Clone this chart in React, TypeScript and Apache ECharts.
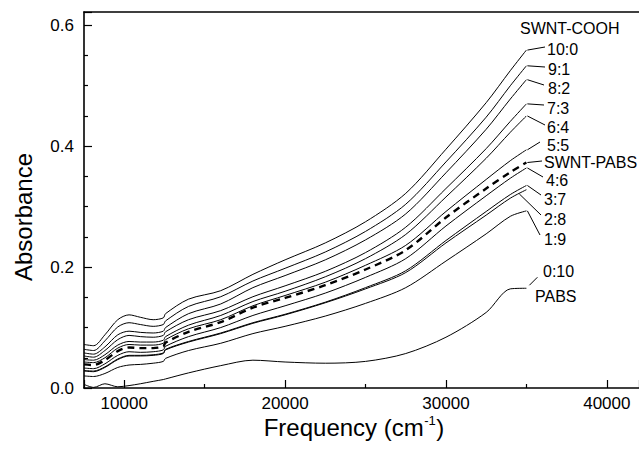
import React, { useEffect, useRef } from "react";
import * as echarts from "echarts";

const FREQ = [7500, 8100, 8800, 9600, 10300, 11000, 11800, 12430, 12570, 14000, 16000, 18000, 20000, 22500, 25000, 27500, 30000, 32500, 34000, 35000];

const S_10_0 = [0.072, 0.070, 0.088, 0.113, 0.121, 0.117, 0.113, 0.116, 0.123, 0.147, 0.161, 0.188, 0.212, 0.240, 0.275, 0.322, 0.395, 0.472, 0.525, 0.559];
const S_9_1 = [0.064, 0.062, 0.078, 0.101, 0.108, 0.105, 0.102, 0.105, 0.111, 0.135, 0.151, 0.177, 0.198, 0.225, 0.259, 0.304, 0.374, 0.448, 0.500, 0.533];
const S_8_2 = [0.058, 0.056, 0.068, 0.088, 0.094, 0.092, 0.091, 0.094, 0.100, 0.123, 0.139, 0.166, 0.186, 0.212, 0.245, 0.288, 0.356, 0.428, 0.478, 0.510];
const S_7_3 = [0.053, 0.051, 0.062, 0.080, 0.087, 0.085, 0.084, 0.087, 0.093, 0.113, 0.128, 0.151, 0.169, 0.193, 0.224, 0.266, 0.330, 0.396, 0.441, 0.470];
const S_6_4 = [0.047, 0.046, 0.055, 0.071, 0.077, 0.076, 0.076, 0.079, 0.085, 0.104, 0.120, 0.143, 0.160, 0.184, 0.214, 0.254, 0.316, 0.380, 0.423, 0.450];
const S_5_5 = [0.043, 0.042, 0.050, 0.066, 0.072, 0.071, 0.071, 0.074, 0.080, 0.098, 0.113, 0.136, 0.153, 0.175, 0.203, 0.236, 0.292, 0.345, 0.376, 0.394];
const S_SWNT_PABS = [0.039, 0.038, 0.046, 0.061, 0.067, 0.066, 0.066, 0.069, 0.075, 0.093, 0.109, 0.133, 0.149, 0.170, 0.196, 0.228, 0.282, 0.330, 0.357, 0.373];
const S_4_6 = [0.033, 0.032, 0.040, 0.054, 0.060, 0.059, 0.060, 0.063, 0.069, 0.085, 0.100, 0.120, 0.136, 0.157, 0.183, 0.214, 0.268, 0.318, 0.347, 0.364];
const S_3_7 = [0.029, 0.028, 0.035, 0.048, 0.054, 0.054, 0.055, 0.058, 0.064, 0.077, 0.091, 0.108, 0.122, 0.142, 0.166, 0.194, 0.244, 0.292, 0.320, 0.335];
const S_2_8 = [0.028, 0.027, 0.034, 0.047, 0.053, 0.053, 0.054, 0.057, 0.063, 0.076, 0.090, 0.107, 0.121, 0.141, 0.164, 0.191, 0.240, 0.286, 0.314, 0.328];
const S_1_9 = [0.020, 0.019, 0.024, 0.034, 0.038, 0.039, 0.041, 0.044, 0.049, 0.062, 0.074, 0.090, 0.102, 0.119, 0.140, 0.166, 0.210, 0.255, 0.284, 0.293];
const S_0_10 = [0.006, 0.001, 0.007, 0.002, 0.004, 0.007, 0.011, 0.014, 0.015, 0.025, 0.037, 0.046, 0.043, 0.041, 0.044, 0.057, 0.084, 0.125, 0.164, 0.165];

const SERIES_NAMES = ["10:0", "9:1", "8:2", "7:3", "6:4", "5:5", "SWNT-PABS", "4:6", "3:7", "2:8", "1:9", "0:10"];
const SERIES_VALUES = [S_10_0, S_9_1, S_8_2, S_7_3, S_6_4, S_5_5, S_SWNT_PABS, S_4_6, S_3_7, S_2_8, S_1_9, S_0_10];
const DASHED_SERIES = "SWNT-PABS";

const X_TITLE = "Frequency (cm";
const X_TITLE_SUP = "-1";
const X_TITLE_END = ")";
const Y_TITLE = "Absorbance";
const HEADER_LABEL = "SWNT-COOH";
const PABS_LABEL = "PABS";

// label layout (pixels): text position and leader-line target
const LABEL_LAYOUT: Record<string, { tx: number; ty: number; lx?: number; ly?: number; fromX?: number }> = {
  "10:0": { tx: 547, ty: 49, lx: 545, ly: 47 },
  "9:1": { tx: 548, ty: 69, lx: 545, ly: 67 },
  "8:2": { tx: 548, ty: 88, lx: 544, ly: 85 },
  "7:3": { tx: 547, ty: 108, lx: 544, ly: 105 },
  "6:4": { tx: 547, ty: 127, lx: 545, ly: 125 },
  "5:5": { tx: 547, ty: 145, lx: 540, ly: 142 },
  "SWNT-PABS": { tx: 544, ty: 162, lx: 542, ly: 161 },
  "4:6": { tx: 546, ty: 180, lx: 543, ly: 177 },
  "3:7": { tx: 544, ty: 199, lx: 541, ly: 195 },
  "2:8": { tx: 544, ty: 219, lx: 541, ly: 215, fromX: 34500 },
  "1:9": { tx: 544, ty: 239, lx: 540, ly: 235 },
  "0:10": { tx: 543, ty: 271 },
};

export default function App() {
  const ref = useRef<HTMLDivElement>(null);
  useEffect(() => {
    document.body.style.margin = "0";
    const chart = echarts.init(ref.current!, null, { renderer: "svg" });
    const font = "'Liberation Sans', Arial, Helvetica, sans-serif";
    const series = SERIES_NAMES.map((name, k) => ({
      type: "line",
      name,
      data: FREQ.map((f, i) => [f, SERIES_VALUES[k][i]]),
      showSymbol: false,
      symbol: "none",
      smooth: 0.3,
      silent: true,
      lineStyle: {
        color: "#000",
        width: name === DASHED_SERIES ? 2.4 : 1,
        type: name === DASHED_SERIES ? [7, 5] : "solid",
      },
    }));
    chart.setOption({
      animation: false,
      grid: { left: 84, right: 0, top: 12, bottom: 63 },
      xAxis: [
        {
          type: "value",
          min: 7500,
          max: 42000,
          splitNumber: 4,
          minInterval: 10000,
          maxInterval: 10000,
          axisLine: { show: true, onZero: false, lineStyle: { color: "#000", width: 1.6 } },
          axisTick: { show: true, inside: true, length: 8, lineStyle: { color: "#000", width: 1.2 } },
          minorTick: { show: true, splitNumber: 2, length: 4, lineStyle: { color: "#000", width: 1.2 } },
          axisLabel: {
            showMinLabel: false,
            showMaxLabel: false,
            color: "#000",
            fontSize: 17,
            fontFamily: font,
            margin: 7,
            formatter: (v: number) => String(v),
          },
          splitLine: { show: false },
        },
        {
          type: "value",
          position: "top",
          min: 7500,
          max: 42000,
          axisLine: { show: true, onZero: false, lineStyle: { color: "#000", width: 1.6 } },
          axisTick: { show: false },
          axisLabel: { show: false },
          splitLine: { show: false },
        },
      ],
      yAxis: {
        type: "value",
        min: 0,
        max: 0.622,
        splitNumber: 3,
        minInterval: 0.2,
        maxInterval: 0.2,
        axisLine: { show: true, onZero: false, lineStyle: { color: "#000", width: 1.6 } },
        axisTick: { show: true, inside: true, length: 8, lineStyle: { color: "#000", width: 1.2 } },
        minorTick: { show: true, splitNumber: 4, length: 4, lineStyle: { color: "#000", width: 1.2 } },
        axisLabel: {
          showMaxLabel: false,
          color: "#000",
          fontSize: 17,
          fontFamily: font,
          margin: 10,
          formatter: (v: number) => v.toFixed(1),
        },
        splitLine: { show: false },
      },
      series,
    });

    const graphics: any[] = [];
    const lastIdx = FREQ.length - 1;
    const labelStyle = (text: string) => ({
      text,
      fontSize: 16,
      lineHeight: 16,
      fontFamily: font,
      fill: "#000",
      align: "left",
      verticalAlign: "middle",
    });
    SERIES_NAMES.forEach((name, k) => {
      const lay = LABEL_LAYOUT[name];
      if (!lay) return;
      graphics.push({ type: "text", x: lay.tx, y: lay.ty, silent: true, style: labelStyle(name) });
      if (lay.lx !== undefined && lay.ly !== undefined) {
        let fx = FREQ[lastIdx];
        let fy = SERIES_VALUES[k][lastIdx];
        if (lay.fromX !== undefined) {
          fx = lay.fromX;
          fy = (SERIES_VALUES[k][lastIdx - 1] + SERIES_VALUES[k][lastIdx]) / 2;
        }
        const p = chart.convertToPixel({ xAxisIndex: 0, yAxisIndex: 0 }, [fx, fy]) as number[];
        graphics.push({
          type: "line",
          silent: true,
          shape: { x1: p[0] + 1, y1: p[1], x2: lay.lx, y2: lay.ly },
          style: { stroke: "#000", lineWidth: 1 },
        });
      }
    });
    const pEnd = chart.convertToPixel({ xAxisIndex: 0, yAxisIndex: 0 }, [FREQ[lastIdx], S_0_10[lastIdx]]) as number[];
    graphics.push({
      type: "line",
      silent: true,
      shape: { x1: pEnd[0] + 3, y1: pEnd[1] - 3, x2: pEnd[0] + 11, y2: pEnd[1] - 11 },
      style: { stroke: "#000", lineWidth: 1 },
    });
    graphics.push({ type: "text", x: 535, y: 296, silent: true, style: labelStyle(PABS_LABEL) });
    graphics.push({ type: "text", x: 520, y: 28, silent: true, style: labelStyle(HEADER_LABEL) });
    graphics.push({
      type: "text",
      x: 23,
      y: 217,
      rotation: Math.PI / 2,
      silent: true,
      style: { text: Y_TITLE, fontSize: 24, fontFamily: font, fill: "#000", align: "center", verticalAlign: "middle" },
    });
    const canvas = document.createElement("canvas");
    const ctx = canvas.getContext("2d")!;
    ctx.font = "24px 'Liberation Sans'";
    const w1 = ctx.measureText(X_TITLE).width;
    const w3 = ctx.measureText(X_TITLE_END).width;
    ctx.font = "13px 'Liberation Sans'";
    const w2 = ctx.measureText(X_TITLE_SUP).width;
    const total = w1 + w2 + w3 + 1;
    const x0 = 354 - total / 2;
    graphics.push({
      type: "text", x: x0, y: 427, silent: true,
      style: { text: X_TITLE, fontSize: 24, fontFamily: font, fill: "#000", align: "left", verticalAlign: "middle" },
    });
    graphics.push({
      type: "text", x: x0 + w1 + 0.5, y: 420, silent: true,
      style: { text: X_TITLE_SUP, fontSize: 13, fontFamily: font, fill: "#000", align: "left", verticalAlign: "middle" },
    });
    graphics.push({
      type: "text", x: x0 + w1 + w2 + 1, y: 427, silent: true,
      style: { text: X_TITLE_END, fontSize: 24, fontFamily: font, fill: "#000", align: "left", verticalAlign: "middle" },
    });
    chart.setOption({ graphic: graphics });
    return () => chart.dispose();
  }, []);
  return <div ref={ref} style={{ width: 639, height: 451 }} />;
}
